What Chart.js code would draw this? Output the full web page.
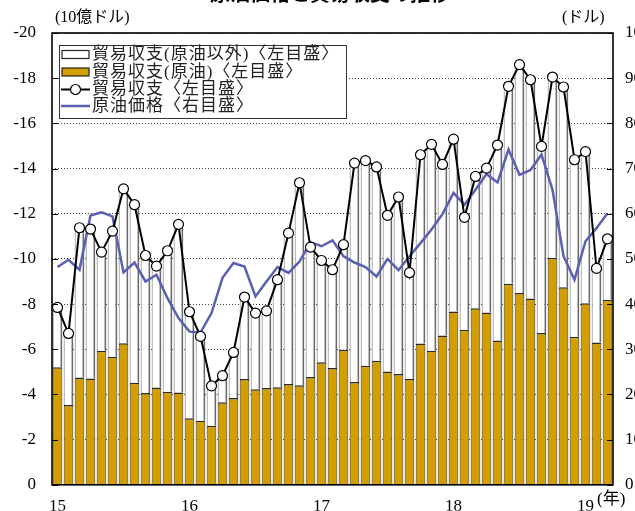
<!DOCTYPE html>
<html><head><meta charset="utf-8">
<script src="https://cdn.jsdelivr.net/npm/chart.js@4/dist/chart.umd.min.js"></script>
<style>html,body{margin:0;padding:0;overflow:hidden;background:#fff;}canvas{display:block;}</style>
</head><body>
<canvas id="c" width="635" height="511" style="width:635px;height:511px"></canvas>
<script>
// Months Jan 2015 – Mar 2019
const categories = [
 "15/1","15/2","15/3","15/4","15/5","15/6","15/7","15/8","15/9","15/10","15/11","15/12",
 "16/1","16/2","16/3","16/4","16/5","16/6","16/7","16/8","16/9","16/10","16/11","16/12",
 "17/1","17/2","17/3","17/4","17/5","17/6","17/7","17/8","17/9","17/10","17/11","17/12",
 "18/1","18/2","18/3","18/4","18/5","18/6","18/7","18/8","18/9","18/10","18/11","18/12",
 "19/1","19/2","19/3"];
// Trade balance, crude oil (billion USD)
const crudeBalance = [
 -5.20,-3.53,-4.75,-4.71,-5.93,-5.67,-6.27,-4.52,-4.06,-4.31,-4.12,-4.09,
 -2.95,-2.83,-2.61,-3.65,-3.84,-4.68,-4.23,-4.28,-4.32,-4.46,-4.41,-4.77,
 -5.43,-5.17,-5.98,-4.55,-5.27,-5.49,-5.02,-4.90,-4.68,-6.26,-5.93,-6.61,
 -7.67,-6.86,-7.81,-7.63,-6.39,-8.90,-8.49,-8.25,-6.72,-10.05,-8.75,-6.55,
 -8.04,-6.30,-8.19];
// Total trade balance (billion USD)
const totalBalance = [
 -7.85,-6.70,-11.38,-11.32,-10.30,-11.23,-13.10,-12.40,-10.15,-9.68,-10.36,-11.53,
 -7.66,-6.57,-4.38,-4.83,-5.86,-8.31,-7.60,-7.70,-9.08,-11.14,-13.37,-10.52,
 -9.93,-9.52,-10.63,-14.24,-14.35,-14.07,-11.93,-12.74,-9.39,-14.61,-15.07,-14.18,
 -15.30,-11.84,-13.65,-14.02,-15.04,-17.64,-18.60,-17.93,-14.98,-18.05,-17.61,-14.39,
 -14.75,-9.58,-10.89];
// Crude oil price (USD)
const oilPrice = [
 48.2,49.8,47.6,59.6,60.3,59.4,47.0,49.2,45.0,46.5,41.3,36.9,
 33.9,33.7,38.0,45.8,49.1,48.3,41.7,45.0,48.2,46.9,49.4,53.7,
 52.8,54.1,50.6,49.2,48.2,46.1,50.0,47.5,50.6,53.5,56.5,59.9,
 64.6,62.0,65.3,68.8,66.9,74.2,68.6,69.7,73.1,65.3,50.6,45.4,
 53.9,56.8,60.1];
const leftTicks = [-20,-18,-16,-14,-12,-10,-8,-6,-4,-2,0];
const rightTicks = [0,10,20,30,40,50,60,70,80,90,100];
const seriesNames = ["貿易収支(原油以外)〈左目盛〉","貿易収支(原油)〈左目盛〉","貿易収支〈左目盛〉","原油価格〈右目盛〉"];
const titleText = "原油価格と貿易収支の推移";

const nonOilBalance = totalBalance.map((t,i)=> +(t - crudeBalance[i]).toFixed(2));

const FONT = '"Liberation Serif","Noto Sans CJK JP",serif';
const GOLD = '#d29e00';
const BLUE = '#5a60b4';

const decor = {
  id:'decor',
  afterDatasetsDraw(chart){
    const ctx = chart.ctx, a = chart.chartArea;
    const y = chart.scales.y, y2 = chart.scales.y2;
    ctx.save();
    ctx.strokeStyle='#000'; ctx.lineWidth=1;
    leftTicks.forEach(v=>{const p=Math.round(y.getPixelForValue(v))+0.5;ctx.beginPath();ctx.moveTo(a.left,p);ctx.lineTo(a.left+6,p);ctx.stroke();});
    rightTicks.forEach(v=>{const p=Math.round(y2.getPixelForValue(v))+0.5;ctx.beginPath();ctx.moveTo(a.right-6,p);ctx.lineTo(a.right,p);ctx.stroke();});
    ctx.lineWidth=1.6; ctx.strokeStyle='#000';
    ctx.strokeRect(a.left,a.top,a.right-a.left,a.bottom-a.top);
    const lx=59, ly=45, lw=287, lh=73;
    ctx.fillStyle='#fff'; ctx.fillRect(lx,ly,lw,lh);
    ctx.lineWidth=1; ctx.strokeStyle='#333'; ctx.strokeRect(lx+0.5,ly+0.5,lw,lh);
    const rows=[54.5,72,89.5,106];
    ctx.lineWidth=1.2; ctx.strokeStyle='#222';
    ctx.fillStyle='#fff'; ctx.fillRect(62,rows[0]-4,27,8); ctx.strokeRect(62,rows[0]-4,27,8);
    ctx.fillStyle=GOLD; ctx.fillRect(62,rows[1]-4,27,8); ctx.strokeRect(62,rows[1]-4,27,8);
    ctx.lineWidth=2; ctx.strokeStyle='#000';
    ctx.beginPath(); ctx.moveTo(61,rows[2]); ctx.lineTo(90,rows[2]); ctx.stroke();
    ctx.fillStyle='#fff'; ctx.lineWidth=1.2; ctx.beginPath(); ctx.arc(75.5,rows[2],5,0,Math.PI*2); ctx.fill(); ctx.stroke();
    ctx.lineWidth=2.5; ctx.strokeStyle=BLUE;
    ctx.beginPath(); ctx.moveTo(61,rows[3]); ctx.lineTo(90,rows[3]); ctx.stroke();
    ctx.fillStyle='#222'; ctx.font='17px '+FONT; ctx.textBaseline='middle'; ctx.textAlign='left';
    try{ctx.letterSpacing='1px';}catch(e){}
    seriesNames.forEach((s,i)=>ctx.fillText(s,92,rows[i]+0.5));
    try{ctx.letterSpacing='0px';}catch(e){}
    ctx.fillStyle='#000'; ctx.font='16px '+FONT;
    ctx.fillText('(10億ドル)',55,18);
    ctx.fillText('(ドル)',562,18);
    ctx.font='17px '+FONT;
    ctx.fillText('(年)',597,500);
    ctx.font='bold 20px "Noto Sans CJK JP",sans-serif'; ctx.textAlign='center'; ctx.textBaseline='bottom';
    ctx.fillText(titleText,330,3);
    ctx.restore();
  }
};

new Chart(document.getElementById('c'),{
  data:{
    labels:categories,
    datasets:[
      {type:'line',label:seriesNames[2],data:totalBalance,yAxisID:'y',stack:'tot',order:0,
       borderColor:'#000',borderWidth:2,pointRadius:5,pointBackgroundColor:'#fff',pointBorderColor:'#000',pointBorderWidth:1.2,tension:0},
      {type:'line',label:seriesNames[3],data:oilPrice,yAxisID:'y2',order:1,
       borderColor:BLUE,borderWidth:2.5,pointRadius:0,tension:0},
      {type:'bar',label:seriesNames[1],data:crudeBalance,yAxisID:'y',stack:'bal',order:2,
       backgroundColor:GOLD,borderColor:'#2a2a2a',borderWidth:{left:1,right:1,top:1.5,bottom:0},borderSkipped:false,
       barPercentage:0.88,categoryPercentage:1},
      {type:'bar',label:seriesNames[0],data:nonOilBalance,yAxisID:'y',stack:'bal',order:2,
       backgroundColor:'#fff',borderColor:'#6a6a6a',borderWidth:{left:1,right:2,top:1,bottom:0},borderSkipped:false,
       barPercentage:0.88,categoryPercentage:1}
    ]
  },
  options:{
    responsive:false,animation:false,devicePixelRatio:1,
    layout:{padding:{top:33,left:0,right:0,bottom:0}},
    plugins:{legend:{display:false},tooltip:{enabled:false},title:{display:false}},
    scales:{
      x:{stacked:true,grid:{display:false},border:{display:false},
         ticks:{autoSkip:false,maxRotation:0,minRotation:0,padding:4,color:'#000',font:{family:FONT,size:17},
           callback:(v,i)=>{const c=categories[i];const p=c.split('/');return p[1]==='1'?p[0]:'';}},
         afterFit:s=>{s.height=26;}},
      y:{stacked:true,reverse:true,min:-20,max:0,position:'left',
         afterBuildTicks:s=>{s.ticks=leftTicks.map(v=>({value:v}));},
         ticks:{color:'#000',padding:16,font:{family:FONT,size:17}},
         grid:{color:'#444',lineWidth:1,drawTicks:false},
         border:{display:false,dash:[1,2]},
         afterFit:s=>{s.width=52;}},
      y2:{min:0,max:100,position:'right',
         afterBuildTicks:s=>{s.ticks=rightTicks.map(v=>({value:v}));},
         ticks:{color:'#000',padding:12,font:{family:FONT,size:17}},
         grid:{drawOnChartArea:false,drawTicks:false},border:{display:false},
         afterFit:s=>{s.width=22;}}
    }
  },
  plugins:[decor]
});
</script>
</body></html>
